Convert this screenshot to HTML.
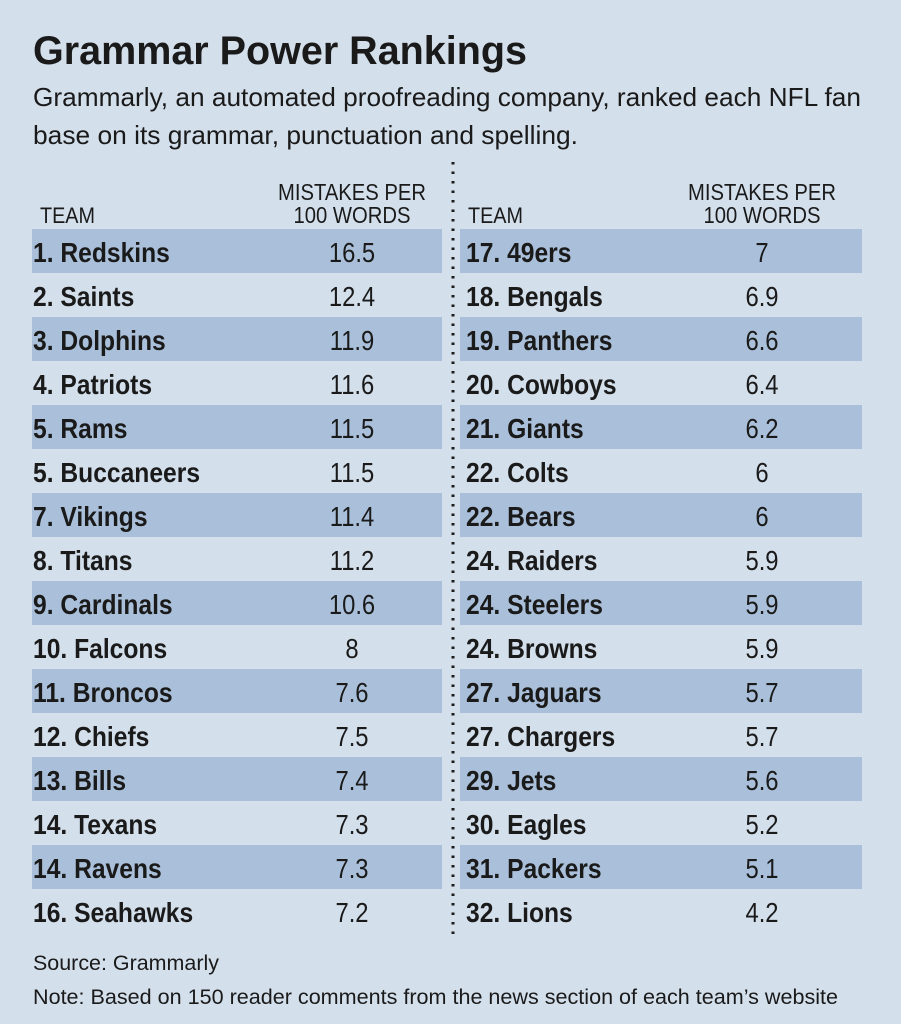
<!DOCTYPE html>
<html><head><meta charset="utf-8"><style>
html,body{margin:0;padding:0;background:#d3dfeb;}
svg{display:block;}
.t{font-family:"Liberation Sans Narrow","Liberation Sans",sans-serif;}
</style></head><body>
<svg id="chart" width="901" height="1024" viewBox="0 0 901 1024" xmlns="http://www.w3.org/2000/svg">
<rect width="901" height="1024" fill="#d3dfeb"/>
<text class="t" x="33" y="64" font-size="40" font-weight="bold" fill="#1a1a1a" textLength="494" lengthAdjust="spacingAndGlyphs">Grammar Power Rankings</text>
<text class="t" x="33" y="106" font-size="26" fill="#1a1a1a" textLength="828" lengthAdjust="spacingAndGlyphs">Grammarly, an automated proofreading company, ranked each NFL fan</text>
<text class="t" x="33" y="144" font-size="26" fill="#1a1a1a" textLength="545" lengthAdjust="spacingAndGlyphs">base on its grammar, punctuation and spelling.</text>
<line x1="453" y1="162" x2="453" y2="935" stroke="#1a1a1a" stroke-width="3" stroke-dasharray="2.5,7"/>
<g id="rows"></g>
<text class="t" x="33" y="970" font-size="21" fill="#1a1a1a" textLength="186" lengthAdjust="spacingAndGlyphs">Source: Grammarly</text>
<text class="t" x="33" y="1004" font-size="21" fill="#1a1a1a" textLength="805" lengthAdjust="spacingAndGlyphs">Note: Based on 150 reader comments from the news section of each team’s website</text>
</svg>
<script>
const ranks = [1,2,3,4,5,5,7,8,9,10,11,12,13,14,14,16,17,18,19,20,21,22,22,24,24,24,27,27,29,30,31,32];
const teams = ["Redskins","Saints","Dolphins","Patriots","Rams","Buccaneers","Vikings","Titans","Cardinals","Falcons","Broncos","Chiefs","Bills","Texans","Ravens","Seahawks","49ers","Bengals","Panthers","Cowboys","Giants","Colts","Bears","Raiders","Steelers","Browns","Jaguars","Chargers","Jets","Eagles","Packers","Lions"];
const mistakes = [16.5,12.4,11.9,11.6,11.5,11.5,11.4,11.2,10.6,8,7.6,7.5,7.4,7.3,7.3,7.2,7,6.9,6.6,6.4,6.2,6,6,5.9,5.9,5.9,5.7,5.7,5.6,5.2,5.1,4.2];
const NS="http://www.w3.org/2000/svg";
const g=document.getElementById('rows');
const cols=[{x0:32,w:410,tx:33,hx:40,nx:352},{x0:460,w:402,tx:466,hx:468,nx:762}];
const rowY=i=>229+i*44;
function mk(tag,attrs,txt){const e=document.createElementNS(NS,tag);for(const k in attrs)e.setAttribute(k,attrs[k]);if(txt!==undefined)e.textContent=txt;g.appendChild(e);return e;}
cols.forEach((c,ci)=>{
  let h=mk('text',{class:'t',transform:`translate(${c.hx},223) scale(0.9,1)`,'font-size':22,fill:'#1a1a1a'},'TEAM');
  
  
  let h1=mk('text',{class:'t',transform:`translate(${c.nx},200) scale(0.88,1)`,'font-size':23,fill:'#1a1a1a','text-anchor':'middle'},'MISTAKES PER');
  
  
  let h2=mk('text',{class:'t',transform:`translate(${c.nx},223) scale(0.88,1)`,'font-size':23,fill:'#1a1a1a','text-anchor':'middle'},'100 WORDS');
  
  
});
for(let i=0;i<teams.length;i++){
  const c=cols[i<16?0:1], r=i%16, y=rowY(r);
  if(r%2===0){
    const s=mk('rect',{x:c.x0,y:y,width:c.w,height:44,fill:'#aac0da'});
    
    
  }
  const n=mk('text',{class:'t',transform:`translate(${c.tx},${y+33}) scale(0.88,1)`,'font-size':28,'font-weight':'bold',fill:'#1a1a1a'},ranks[i]+'. '+teams[i]);
  
  
  const v=mk('text',{class:'t',transform:`translate(${c.nx},${y+33}) scale(0.85,1)`,'font-size':28,fill:'#1a1a1a','text-anchor':'middle'},String(mistakes[i]));
  
  
}
</script>
</body></html>
